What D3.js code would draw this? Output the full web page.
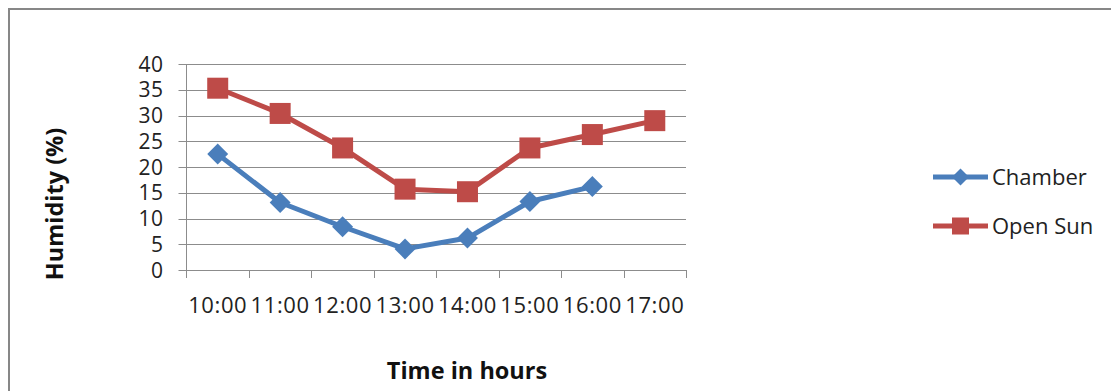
<!DOCTYPE html>
<html>
<head>
<meta charset="utf-8">
<script src="https://cdn.jsdelivr.net/npm/d3@7/dist/d3.min.js"></script>
<style>
  html, body { margin: 0; padding: 0; background: #fff; }
  svg { display: block; font-family: "Open Sans", "Liberation Sans", sans-serif; }
</style>
</head>
<body>
<svg id="chart" width="1111" height="391"></svg>
<script>
// Hourly humidity readings
const hours = ["10:00", "11:00", "12:00", "13:00", "14:00", "15:00", "16:00", "17:00"];
const chamber = [22.5, 13.1, 8.4, 4.1, 6.2, 13.3, 16.2, null];
const openSun = [35.3, 30.4, 23.7, 15.7, 15.2, 23.7, 26.3, 29.0];
const yTicks = [0, 5, 10, 15, 20, 25, 30, 35, 40];
const seriesNames = ["Chamber", "Open Sun"];

const colors = { Chamber: "#4a7ebb", "Open Sun": "#be4b48" };

const svg = d3.select("#chart");

// outer frame (top and left edges visible)
svg.append("path")
  .attr("d", "M9,391 L9,9 L1111,9")
  .attr("fill", "none")
  .attr("stroke", "#878787")
  .attr("stroke-width", 2);

const plot = { left: 186.5, right: 686, top: 64, bottom: 270 };

const x = d3.scaleBand().domain(hours).range([plot.left, plot.right]);
const y = d3.scaleLinear().domain([0, 40]).range([plot.bottom, plot.top]);

// horizontal gridlines with left tick stubs
svg.append("g")
  .selectAll("line")
  .data(yTicks)
  .join("line")
  .attr("x1", plot.left - 8)
  .attr("x2", plot.right)
  .attr("y1", d => Math.round(y(d)) + 0.5)
  .attr("y2", d => Math.round(y(d)) + 0.5)
  .attr("stroke", "#8c8c8c")
  .attr("stroke-width", 1);

// y-axis labels
svg.append("g")
  .selectAll("text")
  .data(yTicks)
  .join("text")
  .attr("x", plot.left - 23)
  .attr("y", d => y(d))
  .attr("dy", "0.36em")
  .attr("text-anchor", "end")
  .attr("font-size", 21)
  .attr("letter-spacing", 0.5)
  .attr("fill", "#222")
  .text(d => d);

// y-axis line
svg.append("line")
  .attr("x1", plot.left).attr("x2", plot.left)
  .attr("y1", plot.top).attr("y2", plot.bottom + 8)
  .attr("stroke", "#8c8c8c");

// x-axis ticks at category boundaries
const boundaries = hours.map(h => x(h)).concat([plot.right]);
svg.append("g")
  .selectAll("line")
  .data(boundaries.slice(1))
  .join("line")
  .attr("x1", d => Math.round(d) + 0.5)
  .attr("x2", d => Math.round(d) + 0.5)
  .attr("y1", plot.bottom)
  .attr("y2", plot.bottom + 8)
  .attr("stroke", "#8c8c8c");

// x-axis labels
svg.append("g")
  .selectAll("text")
  .data(hours)
  .join("text")
  .attr("x", d => x(d) + x.bandwidth() / 2)
  .attr("y", 313)
  .attr("text-anchor", "middle")
  .attr("font-size", 22)
  .attr("letter-spacing", 0.6)
  .attr("fill", "#222")
  .text(d => d);

// axis titles
svg.append("text")
  .attr("x", 467)
  .attr("y", 379)
  .attr("text-anchor", "middle")
  .attr("font-size", 23.5)
  .attr("font-weight", "bold")
  .attr("fill", "#111")
  .text("Time in hours");

svg.append("text")
  .attr("transform", "translate(63,204) rotate(-90)")
  .attr("text-anchor", "middle")
  .attr("font-size", 23.5)
  .attr("font-weight", "bold")
  .attr("fill", "#111")
  .text("Humidity (%)");

// series lines and markers
const line = d3.line()
  .defined(d => d.v !== null)
  .x(d => x(d.h) + x.bandwidth() / 2)
  .y(d => y(d.v));

function drawMarker(g, name, cx, cy, size) {
  if (name === "Chamber") {
    // diamond: square of diagonal `size`, rotated 45°
    g.append("path")
      .attr("d", d3.symbol().type(d3.symbolSquare).size(size * size / 2)())
      .attr("transform", `translate(${cx},${cy}) rotate(45)`)
      .attr("fill", colors[name]);
  } else {
    g.append("rect")
      .attr("x", cx - size / 2)
      .attr("y", cy - size / 2)
      .attr("width", size)
      .attr("height", size)
      .attr("fill", colors[name]);
  }
}

const seriesData = { Chamber: chamber, "Open Sun": openSun };

seriesNames.forEach(name => {
  const pts = hours.map((h, i) => ({ h, v: seriesData[name][i] }));
  const g = svg.append("g");
  g.append("path")
    .datum(pts)
    .attr("d", line)
    .attr("fill", "none")
    .attr("stroke", colors[name])
    .attr("stroke-width", 5)
    .attr("stroke-linejoin", "round");
  pts.filter(p => p.v !== null).forEach(p => {
    drawMarker(g, name, x(p.h) + x.bandwidth() / 2, y(p.v), 21);
  });
});

// legend
const legendY = { Chamber: 177, "Open Sun": 226 };
seriesNames.forEach(name => {
  const g = svg.append("g");
  const ly = legendY[name];
  g.append("line")
    .attr("x1", 933).attr("x2", 988)
    .attr("y1", ly).attr("y2", ly)
    .attr("stroke", colors[name])
    .attr("stroke-width", 5);
  drawMarker(g, name, 960.5, ly, 17);
  g.append("text")
    .attr("x", 992)
    .attr("y", ly)
    .attr("dy", "0.36em")
    .attr("font-size", 22)
    .attr("fill", "#222")
    .text(name);
});
</script>
</body>
</html>
